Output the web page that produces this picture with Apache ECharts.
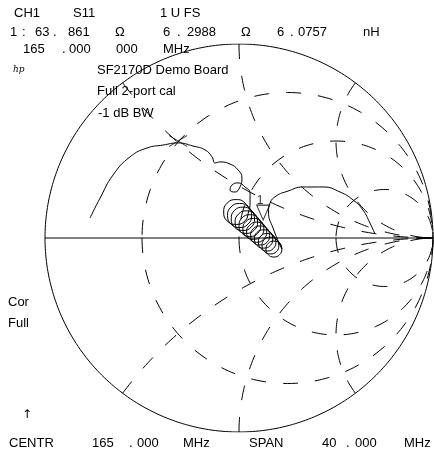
<!DOCTYPE html>
<html><head><meta charset="utf-8">
<script src="https://cdn.jsdelivr.net/npm/echarts@6/dist/echarts.min.js"></script>
<style>html,body{margin:0;padding:0;background:#fff}#c{width:434px;height:455px}</style>
</head><body><div id="c"></div>
<script>
// Smith chart graticule values
const rCircles = [1/3, 1, 3];
const xArcs = [0.5, 1, 2];

const traceRe = [
 -0.768,-0.716,-0.649,-0.562,-0.474,-0.392,-0.314,-0.237,-0.175,-0.139,-0.124,-0.098,-0.046,-0.005,0.015,0.005,-0.021,-0.046,-0.036,-0.005,0.031,0.057,0.057,
 0.049,0.031,-0.015,-0.061,-0.079,-0.061,-0.015,0.031,
 0.065,0.047,0.003,-0.041,-0.059,-0.041,0.003,0.047,
 0.080,0.063,0.020,-0.023,-0.040,-0.023,0.020,0.063,
 0.096,0.079,0.038,-0.003,-0.020,-0.003,0.038,0.079,
 0.112,0.096,0.056,0.016,0.000,0.016,0.056,0.096,
 0.128,0.112,0.074,0.036,0.020,0.036,0.074,0.112,
 0.143,0.127,0.091,0.055,0.039,0.055,0.091,0.127,
 0.158,0.144,0.109,0.074,0.060,0.074,0.109,0.144,
 0.174,0.161,0.127,0.093,0.080,0.093,0.127,0.161,
 0.190,0.177,0.145,0.113,0.100,0.113,0.145,0.177,
 0.205,0.193,0.162,0.131,0.119,0.131,0.162,0.193,
 0.221,0.209,0.180,0.151,0.139,0.151,0.180,0.209,0.221,
 0.175,0.152,0.160,0.191,0.253,0.330,0.433,0.521,0.588,0.639,0.675,0.701
];
const traceIm = [
 0.103,0.206,0.325,0.418,0.464,0.479,0.490,0.474,0.454,0.418,0.387,0.392,0.381,0.351,0.309,0.263,0.237,0.247,0.273,0.284,0.263,0.232,0.180,
 0.134,0.088,0.070,0.088,0.134,0.180,0.198,0.180,
 0.116,0.072,0.054,0.072,0.116,0.160,0.178,0.160,
 0.099,0.056,0.039,0.056,0.099,0.142,0.159,0.142,
 0.082,0.041,0.024,0.041,0.082,0.123,0.140,0.123,
 0.064,0.024,0.008,0.024,0.064,0.104,0.120,0.104,
 0.047,0.009,-0.007,0.009,0.047,0.085,0.101,0.085,
 0.030,-0.006,-0.022,-0.006,0.030,0.066,0.082,0.066,
 0.013,-0.022,-0.036,-0.022,0.013,0.048,0.062,0.048,
 -0.005,-0.039,-0.052,-0.039,-0.005,0.029,0.042,0.029,
 -0.022,-0.054,-0.067,-0.054,-0.022,0.010,0.023,0.010,
 -0.039,-0.070,-0.082,-0.070,-0.039,-0.008,0.004,-0.008,
 -0.057,-0.086,-0.098,-0.086,-0.057,-0.028,-0.016,-0.028,-0.057,
 0.052,0.134,0.180,0.216,0.242,0.263,0.263,0.237,0.196,0.144,0.077,0.021
];
// marker 1: 63.861 + j6.2988 ohm at 165 MHz (Z0 = 50 ohm)
const marker1Z = [63.861, 6.2988];
const markerXPoint = [-0.314, 0.500];

// header / footer texts
const texts = [
 ['CH1',14,13],['S11',73,13],['1 U FS',160,13],
 ['1',10,32],[':',22,32],['63',35,32],['.',53,32],['861',68,32],['Ω',115,32],['6',163,32],['.',177,32],['2988',187,32],['Ω',241,32],['6',277,32],['.',290,32],['0757',298,32],['nH',363,32],
 ['165',23,49],['.',62,49],['000',69,49],['000',116,49],['MHz',163,49],
 ['SF2170D Demo Board',97,70],['Full 2-port cal',97,91],['-1 dB BW',98,113],
 ['Cor',8,302],['Full',8,323],
 ['CENTR',9,443],['165',92,443],['.',129,443],['000',137,443],['MHz',183,443],['SPAN',249,443],['40',322,443],['.',346,443],['000',355,443],['MHz',404,443]
];

function arc(cx, cy, R, a0, a1, n) {
  const pts = [];
  for (let i = 0; i <= n; i++) {
    const a = a0 + (a1 - a0) * i / n;
    pts.push([cx + R * Math.cos(a), cy + R * Math.sin(a)]);
  }
  return pts;
}

const FONT = '13px "Liberation Sans", Arial, sans-serif';
const solid = {color:'#000', width:1};
const dashed = {color:'#000', width:1, type:[15,17]};
const series = [];
function addLine(data, ls, extra) {
  series.push(Object.assign({type:'line', data, showSymbol:false, symbol:'none', lineStyle:ls, silent:true, animation:false}, extra||{}));
}
// outer circle and real axis
addLine(arc(0,0,1,0,2*Math.PI,360), solid);
addLine([[-1,0],[1,0]], solid);
// constant resistance circles
rCircles.forEach(r => {
  const c = r/(1+r), R = 1/(1+r);
  addLine(arc(c,0,R,Math.PI,Math.PI+2*Math.PI,240), dashed);
});
// constant reactance arcs (start on outer circle, end at (1,0))
xArcs.forEach(x => {
  const R = 1/x;
  const ex = -2/(x*x+1), ey = (x*x-1)/(x*(x*x+1));
  let end = Math.atan2(ey, ex);
  if (end > -Math.PI/2) end -= 2*Math.PI;
  const up = arc(1, R, R, end, -Math.PI/2, 200);
  addLine(up, dashed);
  addLine(up.map(p => [p[0], -p[1]]), dashed);
});
// trace
addLine(traceRe.map((v,i)=>[v, traceIm[i]]), {color:'#000', width:1}, {smooth:0.5, z:5});

// marker 1 from impedance
const zn = [marker1Z[0]/50, marker1Z[1]/50];
const den = (zn[0]+1)*(zn[0]+1) + zn[1]*zn[1];
const g1 = [((zn[0]-1)*(zn[0]+1) + zn[1]*zn[1])/den, (zn[1]*(zn[0]+1) - (zn[0]-1)*zn[1])/den];

series.push({type:'scatter', data:[g1], symbol:'triangle', symbolRotate:180, symbolSize:[13,15], symbolOffset:[0,-16],
  itemStyle:{color:'none', borderColor:'#000', borderWidth:1}, silent:true, animation:false, z:6,
  label:{show:true, formatter:'1', position:'top', distance:0, offset:[-3,4], color:'#000', font:'12px "Liberation Sans", Arial, sans-serif'}});
series.push({type:'scatter', data:[markerXPoint], symbol:'path://M0,0L18,11M18,0L0,11', symbolSize:[18,11], symbolKeepAspect:false,
  itemStyle:{color:'none', borderColor:'#000', borderWidth:1}, silent:true, animation:false, z:6});

const graphic = texts.map(t => ({type:'text', x:t[1], y:t[2], silent:true,
  style:{text:t[0], font:FONT, fill:'#000', align:'left', verticalAlign:'middle'}}));
graphic.push({type:'text', x:13, y:70, style:{text:'hp', font:'italic 9px "DejaVu Serif", serif', fill:'#000', verticalAlign:'middle'}});
graphic.push({type:'text', x:22, y:415, style:{text:'↑', font:'12px "DejaVu Sans", sans-serif', fill:'#000', verticalAlign:'middle'}});

const chart = echarts.init(document.getElementById('c'), null, {renderer:'canvas'});
chart.setOption({
  animation:false,
  backgroundColor:'#fff',
  grid:{left:45, top:44, width:388, height:388, show:false},
  xAxis:{type:'value', min:-1, max:1, show:false},
  yAxis:{type:'value', min:-1, max:1, show:false},
  series, graphic
});
</script></body></html>
